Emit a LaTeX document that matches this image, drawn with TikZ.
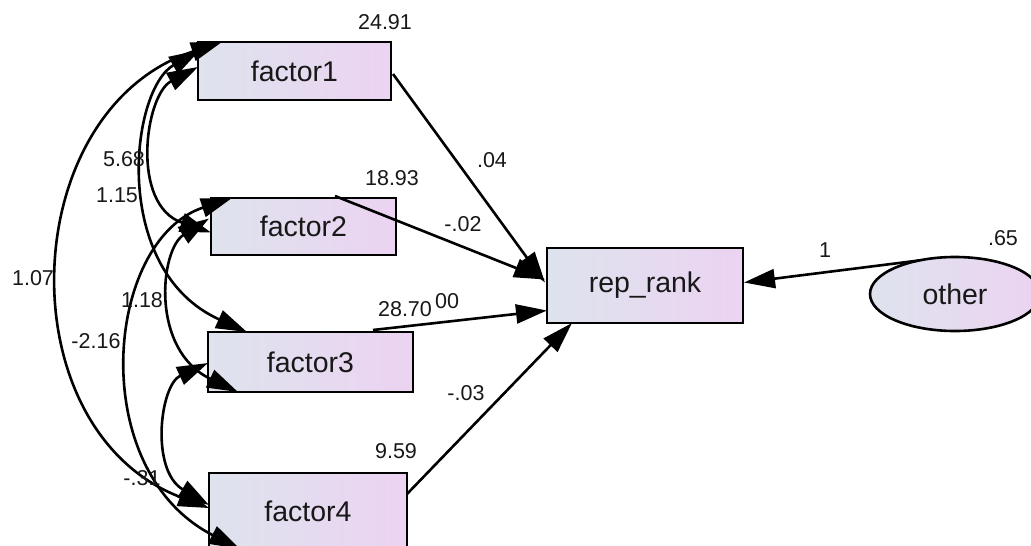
\documentclass[tikz,border=0pt]{standalone}
\usepackage{fontspec}
\setmainfont{Liberation Sans}
\usetikzlibrary{arrows.meta,calc,shapes.geometric}
\definecolor{boxL}{RGB}{222,227,237}
\definecolor{boxR}{RGB}{236,211,242}
\definecolor{txt}{RGB}{24,24,24}
\begin{document}
\begin{tikzpicture}[x=1pt,y=-1pt,
  box/.style={draw=black, line width=2.6pt, left color=boxL, right color=boxR,
    inner sep=0pt, outer sep=0pt, font=\fontsize{28.5}{30}\selectfont, text=txt},
  lab/.style={font=\fontsize{21.5}{24}\selectfont, text=txt, inner sep=0pt},
  conn/.style={line width=2.6pt, draw=black},
  >={Triangle[length=31pt,width=19pt]}]
\useasboundingbox (0,0) rectangle (1031,546);
\fill[white] (0,0) rectangle (1031,546);
\clip (0,0) rectangle (1031,546);

% nodes
\node[box, minimum width=193pt, minimum height=58pt] (f1) at (294.5,71) {factor1};
\node[box, minimum width=185pt, minimum height=57pt] (f2) at (303.5,226.5) {factor2};
\node[box, minimum width=205pt, minimum height=60pt] (f3) at (310.5,362) {factor3};
\node[box, minimum width=198pt, minimum height=76pt] (f4) at (308,511) {factor4};
\node[box, minimum width=196pt, minimum height=75pt] (rep) at (645,285.5) {rep\_rank};
\node[box, ellipse, minimum width=170pt, minimum height=74pt] (other) at (955,294) {other};

% connector end points
\coordinate (a1) at ($(f1.north east)+(2,32)$);
\coordinate (b1) at ($(rep.west)+(-2,-3)$);
\coordinate (a2) at ($(f2.north west)+(124,-2)$);
\coordinate (b2) at ($(rep.west)+(-2,-6)$);
\coordinate (a3) at ($(f3.north west)+(165,-2)$);
\coordinate (b3) at ($(rep.west)+(0,25)$);
\coordinate (a4) at ($(f4.east)+(0,-17)$);
\coordinate (b4) at ($(rep.south west)+(25,0)$);
\coordinate (bo) at ($(rep.east)+(1,-3)$);

% regressions
\draw[conn,->] (a1) -- (b1);
\draw[conn,->] (a2) -- (b2);
\draw[conn,->] (a3) -- (b3);
\draw[conn,->] (a4) -- (b4);
\draw[conn,->] (other.137) -- (bo);

% covariance end points
\coordinate (c107a) at ($(f1.north west)+(24,0)$);
\coordinate (c107b) at ($(f4.north west)+(0,35)$);
\coordinate (c115a) at ($(f1.north west)+(2,8)$);
\coordinate (c115b) at ($(f3.north west)+(39,0)$);
\coordinate (c568a) at ($(f1.west)+(0,-4)$);
\coordinate (c568b) at ($(f2.west)+(0,6)$);
\coordinate (c118a) at ($(f2.west)+(-2,-8)$);
\coordinate (c118b) at ($(f3.south west)+(30,0)$);
\coordinate (c216a) at ($(f2.north west)+(21,0)$);
\coordinate (c216b) at ($(f4.south west)+(31,0)$);
\coordinate (c031a) at ($(f3.west)+(0,1)$);
\coordinate (c031b) at ($(f4.north west)+(0,32)$);

\draw[conn,<->] (c107a) .. controls (15,110) and (5,430) .. (c107b);
\draw[conn,<->] (c115a) .. controls (130,90) and (110,270) .. (c115b);
\draw[conn,<->] (c568a) .. controls (145,95) and (130,205) .. (c568b);
\draw[conn,<->] (c118a) .. controls (160,250) and (150,350) .. (c118b);
\draw[conn,<->] (c216a) .. controls (105,240) and (85,470) .. (c216b);
\draw[conn,<->] (c031a) .. controls (160,385) and (150,470) .. (c031b);

% labels
\node[lab] (l2491) at (385,22) {24.91};
\node[lab] (l1893) at (392,178) {18.93};
\node[lab] (l04) at (492,160) {.04};
\node[lab] (l02) at (463,224) {-.02};
\node[lab] (l2870) at (405,309) {28.70};
\node[lab] (l00) at (447,301) {00};
\node[lab] (l03) at (466,393) {-.03};
\node[lab] (l959) at (396,451) {9.59};
\node[lab] (l1) at (825,250) {1};
\node[lab] (l65) at (1003,238) {.65};
\node[lab] (l568) at (124,159) {5.68};
\node[lab] (l115) at (117,195) {1.15};
\node[lab] (l107) at (33,278) {1.07};
\node[lab] (l118) at (142,300) {1.18};
\node[lab] (l216) at (96,341) {-2.16};
\node[lab] (l031) at (142,478) {-.31};
\end{tikzpicture}
\end{document}
